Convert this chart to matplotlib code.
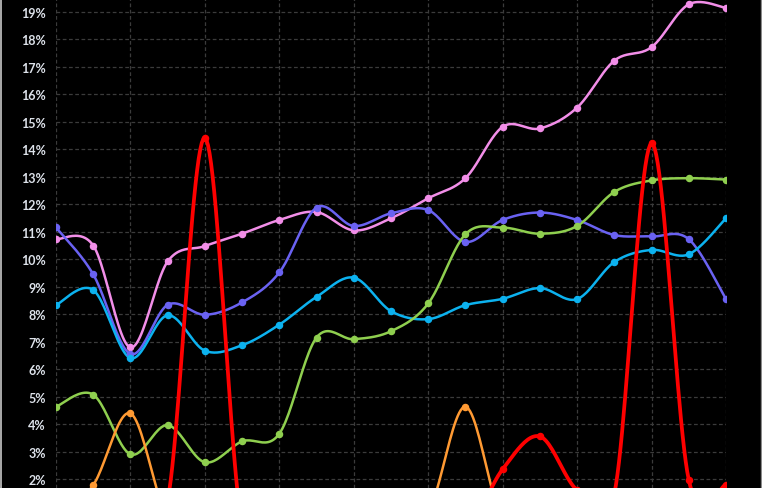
"""Smoothed multi-series percentage chart on a dark background."""

import matplotlib

matplotlib.use("Agg")

import matplotlib.pyplot as plt
import numpy as np
from matplotlib.lines import Line2D
from matplotlib.ticker import FuncFormatter

# category positions (labels sit below the visible area)
periods = list(range(19))

# values in percent; points below ~1.7% fall outside the visible range
pink = [10.73, 10.50, 6.79, 9.92, 10.48, 10.93, 11.43, 11.72, 11.05, 11.49,
        12.22, 12.95, 14.82, 14.76, 15.52, 17.23, 17.72, 19.28, 19.15]
purple = [11.16, 9.45, 6.55, 8.34, 7.98, 8.43, 9.52, 11.88, 11.21, 11.67,
          11.79, 10.63, 11.43, 11.70, 11.43, 10.88, 10.83, 10.73, 8.55]
cyan = [8.33, 8.88, 6.40, 7.96, 6.67, 6.87, 7.62, 8.63, 9.33, 8.11,
        7.82, 8.33, 8.56, 8.95, 8.55, 9.90, 10.34, 10.18, 11.49]
green = [4.63, 5.07, 2.90, 3.96, 2.61, 3.37, 3.65, 7.15, 7.09, 7.38,
         8.39, 10.91, 11.15, 10.93, 11.21, 12.45, 12.87, 12.95, 12.90]
orange = [0.50, 1.78, 4.39, 0.60, 0.50, 0.60, 0.50, 0.40, 0.50, 0.50,
          0.80, 4.63, 0.50, 0.50, 0.60, 0.50, 0.40, 0.50, 0.50]
red = [0.50, 0.50, 0.50, 1.22, 14.42, 0.28, 0.50, 0.50, 0.40, 0.50,
       0.50, 0.10, 2.36, 3.55, 1.60, 1.47, 14.22, 1.97, 1.79]

y_ticks = list(range(2, 20))

series = [
    (pink, "#f28ee8", 1.8),
    (purple, "#6a62f2", 1.8),
    (cyan, "#0cb2ef", 1.8),
    (green, "#8fcf4f", 1.8),
    (orange, "#ff9a33", 1.8),
    (red, "#ff0000", 2.7),
]


def smooth(xs, ys, steps=24):
    """Catmull-Rom spline through the points, like a spreadsheet smoothed line."""
    xs = np.asarray(xs, dtype=float)
    ys = np.asarray(ys, dtype=float)
    px = np.concatenate([[xs[0]], xs, [xs[-1]]])
    py = np.concatenate([[ys[0]], ys, [ys[-1]]])
    out_x, out_y = [], []
    t = np.linspace(0, 1, steps, endpoint=False)
    h00 = 2 * t**3 - 3 * t**2 + 1
    h10 = t**3 - 2 * t**2 + t
    h01 = -2 * t**3 + 3 * t**2
    h11 = t**3 - t**2
    for i in range(1, len(px) - 2):
        mx0 = (px[i + 1] - px[i - 1]) / 2
        mx1 = (px[i + 2] - px[i]) / 2
        my0 = (py[i + 1] - py[i - 1]) / 2
        my1 = (py[i + 2] - py[i]) / 2
        out_x.append(h00 * px[i] + h10 * mx0 + h01 * px[i + 1] + h11 * mx1)
        out_y.append(h00 * py[i] + h10 * my0 + h01 * py[i + 1] + h11 * my1)
    out_x.append([xs[-1]])
    out_y.append([ys[-1]])
    return np.concatenate(out_x), np.concatenate(out_y)


fig = plt.figure(figsize=(7.62, 4.89), dpi=100, facecolor="black")
ax = fig.add_axes([56 / 762, 0, 670 / 762, 1])
ax.set_facecolor("black")

for values, color, width in series:
    sx, sy = smooth(periods, values)
    ax.plot(sx, sy, color=color, linewidth=width, solid_capstyle="round", zorder=3)
    ax.plot(periods, values, linestyle="none", marker="o", markersize=4.4,
            color=color, zorder=4)

ax.set_xlim(0, 18)
ax.set_ylim(1.673, 19.473)
ax.set_xticks(periods[::2])
ax.set_xticklabels([])
ax.set_yticks(y_ticks)
ax.yaxis.set_major_formatter(FuncFormatter(lambda v, _: f"{v:.0f}%"))
ax.tick_params(axis="both", length=0, pad=7.2)
for label in ax.get_yticklabels():
    label.set_fontfamily("Lato")
    label.set_fontweight("bold")
    label.set_fontsize(9)
    label.set_color("#dde2ea")
ax.grid(True, color="#3b3b3b", linestyle=(0, (3, 2)), linewidth=0.9, zorder=0)
ax.set_axisbelow(True)
for spine in ax.spines.values():
    spine.set_visible(False)

# chart frame edges visible at the sides
fig.add_artist(Line2D([0.5 / 762, 0.5 / 762], [0, 1], color="#c8c8c8", linewidth=1.2))
fig.add_artist(Line2D([761.3 / 762, 761.3 / 762], [0, 1], color="#8a8a8a", linewidth=1.0))

fig.savefig("out.png", dpi=100, facecolor="black")
